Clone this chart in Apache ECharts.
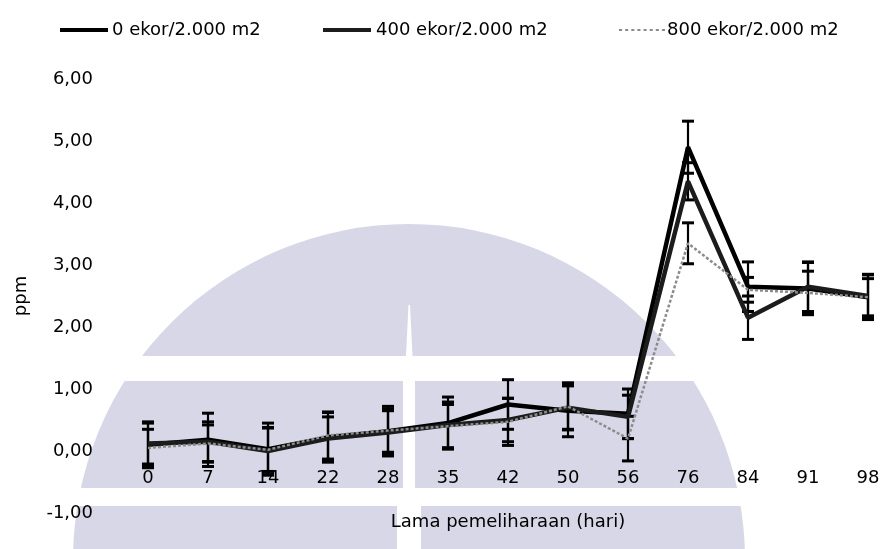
<!DOCTYPE html>
<html>
<head>
<meta charset="utf-8">
<script src="https://cdn.jsdelivr.net/npm/echarts@6/dist/echarts.min.js"></script>
<style>
  html, body { margin: 0; padding: 0; background: #fff; }
  #chart { width: 888px; height: 549px; }
</style>
</head>
<body>
<div id="chart"></div>
<script>
// Sampling days (hari)
const days = ['0', '7', '14', '22', '28', '35', '42', '50', '56', '76', '84', '91', '98'];
const seriesNames = ['0 ekor/2.000 m2', '400 ekor/2.000 m2', '800 ekor/2.000 m2'];

// Mean concentration (ppm) and standard deviation per treatment
const mean0   = [0.10, 0.18, 0.03, 0.22, 0.32, 0.45, 0.75, 0.65, 0.60, 4.90, 2.65, 2.62, 2.48];
const sd0     = [0.37, 0.43, 0.42, 0.40, 0.40, 0.42, 0.40, 0.42, 0.40, 0.42, 0.40, 0.42, 0.36];
const mean400 = [0.12, 0.15, 0.00, 0.20, 0.30, 0.42, 0.50, 0.70, 0.55, 4.35, 2.15, 2.65, 2.50];
const sd400   = [0.33, 0.32, 0.38, 0.35, 0.35, 0.37, 0.35, 0.35, 0.35, 0.30, 0.35, 0.40, 0.35];
const mean800 = [0.05, 0.12, 0.02, 0.25, 0.33, 0.40, 0.47, 0.72, 0.20, 3.35, 2.60, 2.55, 2.48];
const sd800   = [0.30, 0.30, 0.35, 0.38, 0.35, 0.35, 0.38, 0.38, 0.36, 0.33, 0.20, 0.35, 0.30];

const FONT = 'DejaVu Sans';
const FS = 18;

function errorBars(means, sds) {
  return {
    type: 'custom',
    silent: true,
    z: 3,
    encode: { x: 0, y: [1, 2] },
    data: means.map((m, i) => [i, m - sds[i], m + sds[i]]),
    renderItem(params, api) {
      const i = api.value(0);
      const lo = api.coord([i, api.value(1)]);
      const hi = api.coord([i, api.value(2)]);
      const w = 6;
      return {
        type: 'group',
        children: [
          { type: 'line', shape: { x1: lo[0], y1: lo[1], x2: hi[0], y2: hi[1] }, style: { stroke: '#000', lineWidth: 2.2 } },
          { type: 'rect', shape: { x: hi[0] - w, y: hi[1] - 1.5, width: 2 * w, height: 3 }, style: { fill: '#000' } },
          { type: 'rect', shape: { x: lo[0] - w, y: lo[1] - 1.5, width: 2 * w, height: 3 }, style: { fill: '#000' } }
        ]
      };
    }
  };
}

// Legend glyphs: solid bar for the black lines, row of dots for the grey one
const solidIcon = 'path://M0,0H48V4H0Z';
const dottedIcon = 'path://M0,1h3v2h-3z M6,1h3v2h-3z M12,1h3v2h-3z M18,1h3v2h-3z M24,1h3v2h-3z M30,1h3v2h-3z M36,1h3v2h-3z M42,1h3v2h-3z';

function legendFor(name, icon, left, itemWidth, itemHeight) {
  return {
    data: [{ name: name, icon: icon }],
    left: left,
    top: 16,
    itemWidth: itemWidth,
    itemHeight: itemHeight,
    selectedMode: false,
    textStyle: { fontFamily: FONT, fontSize: FS, color: '#000', padding: [0, 0, 0, -3] }
  };
}

const lavender = '#d8d7e8';

const option = {
  backgroundColor: '#fff',
  animation: false,
  graphic: [
    { type: 'circle', silent: true, z: -10, shape: { cx: 409, cy: 560, r: 336 }, style: { fill: lavender } },
    { type: 'rect', silent: true, z: -9, shape: { x: 0, y: 356, width: 888, height: 25 }, style: { fill: '#fff' } },
    { type: 'rect', silent: true, z: -9, shape: { x: 0, y: 488, width: 888, height: 18 }, style: { fill: '#fff' } },
    { type: 'polygon', silent: true, z: -9, shape: { points: [[408.5, 305], [410, 305], [412.5, 356], [406, 356]] }, style: { fill: '#fff' } },
    { type: 'rect', silent: true, z: -9, shape: { x: 403, y: 381, width: 12, height: 107 }, style: { fill: '#fff' } },
    { type: 'rect', silent: true, z: -9, shape: { x: 397, y: 506, width: 24, height: 43 }, style: { fill: '#fff' } }
  ],
  legend: [
    legendFor(seriesNames[0], solidIcon, 55, 52, 4),
    legendFor(seriesNames[1], solidIcon, 318, 54, 4),
    legendFor(seriesNames[2], dottedIcon, 614, 46, 3)
  ],
  grid: { left: 148, right: 20, top: 79, bottom: 36, outerBoundsMode: 'none', containLabel: false },
  xAxis: {
    type: 'category',
    data: days,
    boundaryGap: false,
    // category labels sit just under the zero line (one unit = 62px above the grid bottom)
    offset: -62,
    axisLine: { show: false },
    axisTick: { show: false },
    axisLabel: { margin: 18, color: '#000', fontFamily: FONT, fontSize: FS },
    name: 'Lama pemeliharaan (hari)',
    nameLocation: 'middle',
    nameGap: 62,
    nameTextStyle: { color: '#000', fontFamily: FONT, fontSize: FS }
  },
  yAxis: {
    type: 'value',
    min: -1,
    max: 6,
    interval: 1,
    axisLine: { show: false },
    axisTick: { show: false },
    splitLine: { show: false },
    axisLabel: {
      margin: 55,
      color: '#000',
      fontFamily: FONT,
      fontSize: FS,
      formatter: v => v.toFixed(2).replace('.', ',')
    },
    name: 'ppm',
    nameLocation: 'middle',
    nameRotate: 90,
    nameGap: 118,
    nameTextStyle: { color: '#000', fontFamily: FONT, fontSize: FS }
  },
  series: [
    {
      name: seriesNames[0], type: 'line', data: mean0, symbol: 'none', z: 4,
      lineStyle: { color: '#000', width: 4.5 }, itemStyle: { color: '#000' }
    },
    {
      name: seriesNames[1], type: 'line', data: mean400, symbol: 'none', z: 4,
      lineStyle: { color: '#1c1c1c', width: 4.5 }, itemStyle: { color: '#1c1c1c' }
    },
    {
      name: seriesNames[2], type: 'line', data: mean800, symbol: 'none', z: 5,
      lineStyle: { color: '#8c8c8c', width: 2.5, type: [3, 2] }, itemStyle: { color: '#8c8c8c' }
    },
    errorBars(mean0, sd0),
    errorBars(mean400, sd400),
    errorBars(mean800, sd800)
  ]
};

const chart = echarts.init(document.getElementById('chart'), null, { renderer: 'canvas' });
chart.setOption(option);
</script>
</body>
</html>
